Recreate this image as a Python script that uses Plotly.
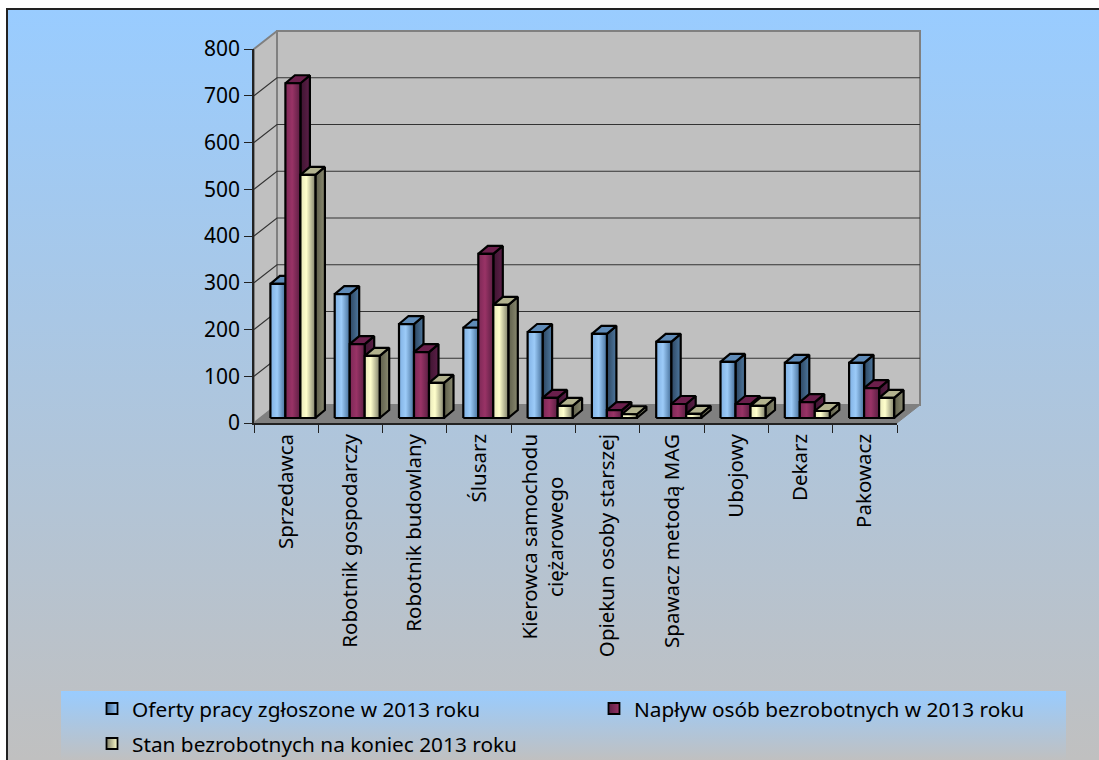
import plotly.graph_objects as go

categories = ["Sprzedawca", "Robotnik gospodarczy", "Robotnik budowlany", "Ślusarz",
              "Kierowca samochodu<br>ciężarowego&nbsp;&nbsp;&nbsp;&nbsp;&nbsp;&nbsp;&nbsp;&nbsp;", "Opiekun osoby starszej",
              "Spawacz metodą MAG", "Ubojowy", "Dekarz", "Pakowacz"]
oferty = [287, 265, 201, 193, 184, 180, 163, 120, 118, 118]
naplyw = [716, 158, 141, 351, 43, 17, 30, 30, 34, 64]
stan = [520, 133, 75, 242, 26, 8, 9, 26, 15, 43]
names = ["Oferty pracy zgłoszone w 2013 roku", "Napływ osób bezrobotnych w 2013 roku",
         "Stan bezrobotnych na koniec 2013 roku"]
y_ticks = [0, 100, 200, 300, 400, 500, 600, 700, 800]

W, H = 1099, 760
AX_L, AX_R, AX_B, AX_T = 254, 897, 423, 49
PX_X = (AX_R - AX_L) / 10
PX_Y = (AX_B - AX_T) / 800
FONT = "Noto Sans"
TXT = 20.5

def dx(px): return px / PX_X
def dy(px): return px / PX_Y

DEPTH_X, DEPTH_Y = dx(23), dy(18)
BAR_DX, BAR_DY = dx(9.5), dy(8)
OFF_X, OFF_Y = dx(6.75), dy(5)
BAR_W = 0.2333
GAP = (1 - 3 * BAR_W) / 2

styles = [
    dict(front=[[0, "#7FB0E3"], [0.45, "#9CCBF8"], [1, "#456F9A"]],
         side=[[0, "#2C4560"], [1, "#4E789F"]], top="#5F8BB8", leg="#99CCFF", leg2="#3F6690"),
    dict(front=[[0, "#7C2856"], [0.45, "#993366"], [1, "#5A1E42"]],
         side=[[0, "#3E1430"], [1, "#5C1F48"]], top="#6B1F4C", leg="#993366", leg2="#5A1E42"),
    dict(front=[[0, "#E6E6B8"], [0.4, "#FFFFCC"], [1, "#80806A"]],
         side=[[0, "#5E5E4A"], [1, "#8A8A70"]], top="#B2B28E", leg="#FFFFCC", leg2="#80806A"),
]

fig = go.Figure()

def bg(xs, ys, scale):
    fig.add_trace(go.Scatter(x=xs + xs[:1], y=ys + ys[:1], mode="lines", fill="toself", showlegend=False,
                             hoverinfo="skip", xaxis="x", yaxis="y", line=dict(color="rgba(0,0,0,0)", width=0),
                             fillgradient=dict(type="vertical", colorscale=scale)))

# chart area background, its frame, and the legend band (pixel-space backdrop axes)
bg([7, 1099, 1099, 7], [9, 9, 760, 760], [[0, "#C0C0C0"], [1, "#99CCFF"]])
fig.add_trace(go.Scatter(x=[7, 7, 1099], y=[760, 9, 9], mode="lines", showlegend=False, hoverinfo="skip",
                         xaxis="x", yaxis="y", line=dict(color="#222222", width=2)))
bg([61, 1066, 1066, 61], [691, 691, 760, 760], [[0, "#C0C0C0"], [1, "#99CCFF"]])

def poly(xs, ys, fill=None, grad=None, line="#000000", width=2.2):
    kw = dict(x=xs + xs[:1], y=ys + ys[:1], mode="lines", fill="toself", showlegend=False,
              hoverinfo="skip", xaxis="x2", yaxis="y2",
              line=dict(color=line, width=width, simplify=False))
    if grad:
        kw["fillgradient"] = dict(type="horizontal", colorscale=grad)
    else:
        kw["fillcolor"] = fill
    fig.add_trace(go.Scatter(**kw))

# walls and floor
poly([0, DEPTH_X, DEPTH_X, 0], [0, DEPTH_Y, 800 + DEPTH_Y, 800], fill="#C0C0C0", line="#808080", width=2)
poly([DEPTH_X, 10 + DEPTH_X, 10 + DEPTH_X, DEPTH_X], [DEPTH_Y, DEPTH_Y, 800 + DEPTH_Y, 800 + DEPTH_Y],
     fill="#C0C0C0", line="#808080", width=2)
poly([0, 10, 10 + DEPTH_X, DEPTH_X], [0, 0, DEPTH_Y, DEPTH_Y], fill="#808080", line="#808080", width=1)

# gridlines on the walls
for v in y_ticks[1:-1]:
    fig.add_trace(go.Scatter(x=[0, DEPTH_X, 10 + DEPTH_X], y=[v, v + DEPTH_Y, v + DEPTH_Y], mode="lines",
                             line=dict(color="#333333", width=1.2), showlegend=False, hoverinfo="skip",
                             xaxis="x2", yaxis="y2"))

# bars
series = [oferty, naplyw, stan]
for i in range(len(categories)):
    for s, vals in enumerate(series):
        v = vals[i]
        st = styles[s]
        x0 = i + GAP + s * BAR_W + OFF_X
        x1 = x0 + BAR_W
        y0 = OFF_Y
        y1 = OFF_Y + v
        poly([x1, x1 + BAR_DX, x1 + BAR_DX, x1], [y0, y0 + BAR_DY, y1 + BAR_DY, y1], grad=st["side"])
        poly([x0, x1, x1 + BAR_DX, x0 + BAR_DX], [y1, y1, y1 + BAR_DY, y1 + BAR_DY], fill=st["top"])
        poly([x0, x1, x1, x0], [y0, y0, y1, y1], grad=st["front"])

# legend entries (carried by the visible axes)
legend_ids = ["legend", "legend2", "legend3"]
for s, name in enumerate(names):
    fig.add_trace(go.Scatter(x=[None], y=[None], mode="markers", name=name, legend=legend_ids[s],
                             xaxis="x3", yaxis="y3", hoverinfo="skip",
                             marker=dict(symbol="square", size=11, color=styles[s]["leg2"],
                                         gradient=dict(type="horizontal", color=styles[s]["leg"]),
                                         line=dict(color="#000000", width=1.8))))

def legend_at(px, py):
    return dict(x=px / W, y=1 - py / H, xanchor="left", yanchor="middle", bgcolor="rgba(0,0,0,0)",
                borderwidth=0, font=dict(family=FONT, size=TXT + 0.3, color="#000000"), itemwidth=30)

fig.update_layout(
    width=W, height=H, autosize=False,
    margin=dict(l=0, r=0, t=0, b=0, autoexpand=False),
    paper_bgcolor="#FFFFFF", plot_bgcolor="rgba(0,0,0,0)",
    font=dict(family=FONT, color="#000000"),
    hovermode=False,
    legend=legend_at(92, 709),
    legend2=legend_at(594, 709),
    legend3=legend_at(92, 744),
    xaxis=dict(domain=[0, 1], range=[0, W], visible=False, fixedrange=True),
    yaxis=dict(domain=[0, 1], range=[H, 0], visible=False, fixedrange=True),
    # full-figure data axes: same scale as the visible axes, extended so the 3D depth is not clipped
    xaxis2=dict(domain=[0, 1], range=[-AX_L / PX_X, (W - AX_L) / PX_X], visible=False, fixedrange=True, anchor="y2"),
    yaxis2=dict(domain=[0, 1], range=[-(H - AX_B) / PX_Y, AX_B / PX_Y], visible=False, fixedrange=True, anchor="x2"),
    xaxis3=dict(domain=[AX_L / W, AX_R / W], range=[0, 10], anchor="y3",
                tickmode="array", tickvals=[i + 0.5 for i in range(10)], ticktext=categories,
                tickangle=-90, ticks="", ticklabelstandoff=1, showgrid=False, zeroline=False,
                showline=True, linecolor="#222222", linewidth=1.5,
                tickfont=dict(family=FONT, size=TXT, color="#000000"),
                minor=dict(tickmode="array", tickvals=list(range(11)), ticks="outside", ticklen=8,
                           tickcolor="#222222", tickwidth=1.2, showgrid=False)),
    yaxis3=dict(domain=[1 - AX_B / H, 1 - AX_T / H], range=[0, 800], anchor="x3",
                tickmode="array", tickvals=y_ticks, ticks="outside", ticklen=8,
                tickcolor="#222222", tickwidth=1.2, showgrid=False, zeroline=False,
                showline=True, linecolor="#222222", linewidth=1.5,
                tickfont=dict(family=FONT, size=21, color="#000000")),
)

fig.write_html("out.html", config={"displayModeBar": False}, post_script="document.body.style.margin='0';")
